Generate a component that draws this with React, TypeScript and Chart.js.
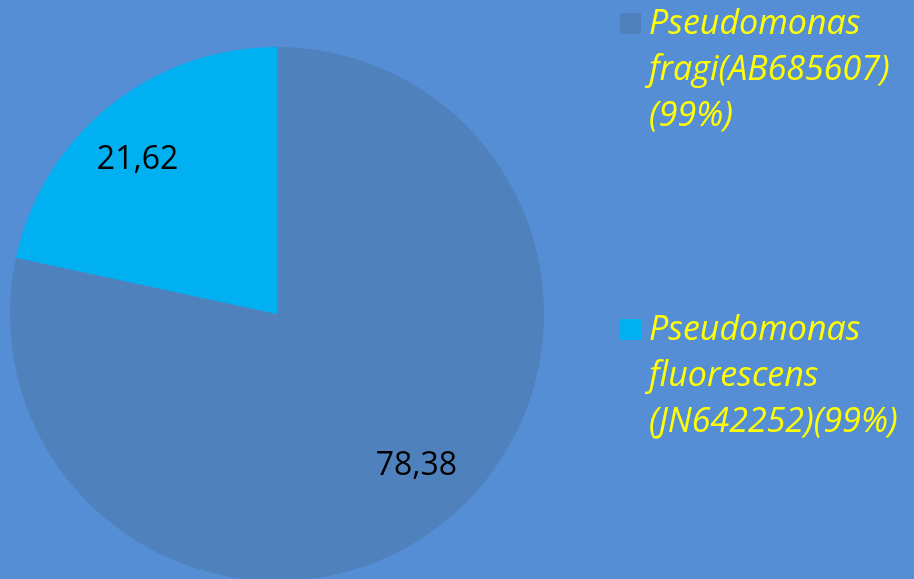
import React, { useEffect, useRef } from "react";
import { Chart, registerables } from "chart.js";

Chart.register(...registerables);

const categories: string[][] = [
  ["Pseudomonas", "fragi(AB685607)", "(99%)"],
  ["Pseudomonas", "fluorescens", "(JN642252)(99%)"],
];
const values: number[] = [78.38, 21.62];
const valueLabels: string[] = ["78,38", "21,62"];
const sliceColors: string[] = ["#4F81BD", "#00B0F0"];

const BG = "#558ED5";

const bgPlugin = {
  id: "bgFill",
  beforeDraw(chart: any) {
    const { ctx, width, height } = chart;
    ctx.save();
    ctx.fillStyle = BG;
    ctx.fillRect(0, 0, width, height);
    ctx.restore();
  },
};

const labelPlugin = {
  id: "sliceLabels",
  afterDatasetsDraw(chart: any) {
    const { ctx } = chart;
    const meta = chart.getDatasetMeta(0);
    ctx.save();
    ctx.font = "32px 'Open Sans'";
    ctx.fillStyle = "#000000";
    ctx.textAlign = "center";
    ctx.textBaseline = "middle";
    meta.data.forEach((arc: any, i: number) => {
      const p = arc.getProps(["x", "y", "startAngle", "endAngle", "outerRadius"], true);
      const mid = (p.startAngle + p.endAngle) / 2 - 0.06;
      const r = p.outerRadius * 0.775;
      ctx.fillText(valueLabels[i], p.x + Math.cos(mid) * r, p.y + Math.sin(mid) * r - 1);
    });
    ctx.restore();
  },
};

const legendPlugin = {
  id: "customLegend",
  afterDraw(chart: any) {
    const { ctx } = chart;
    const labels = chart.data.labels as string[][];
    const colors = chart.data.datasets[0].backgroundColor as string[];
    ctx.save();
    ctx.font = "italic 34px 'Open Sans'";
    ctx.textBaseline = "alphabetic";
    ctx.textAlign = "left";
    const firstBaseline = 34;
    const entryGap = 306;
    const lineGap = 46;
    labels.forEach((lines, i) => {
      const base = firstBaseline + i * entryGap;
      ctx.fillStyle = colors[i];
      ctx.fillRect(620, base - 21, 21, 21);
      ctx.fillStyle = "#FFFF00";
      lines.forEach((ln, j) => {
        ctx.fillText(ln, 649, base + j * lineGap);
      });
    });
    ctx.restore();
  },
};

export default function App() {
  const ref = useRef<HTMLCanvasElement>(null);
  useEffect(() => {
    document.body.style.margin = "0";
    const chart = new Chart(ref.current as HTMLCanvasElement, {
      type: "pie",
      data: {
        labels: categories,
        datasets: [
          {
            data: values,
            backgroundColor: sliceColors,
            borderWidth: 0,
          },
        ],
      },
      options: {
        animation: false,
        responsive: false,
        layout: { padding: { left: 10, right: 370, top: 47, bottom: 1 } },
        plugins: {
          legend: { display: false },
          tooltip: { enabled: false },
        },
      },
      plugins: [bgPlugin, labelPlugin, legendPlugin],
    });
    return () => chart.destroy();
  }, []);
  return (
    <div style={{ width: 914, height: 579, overflow: "hidden", background: BG }}>
      <canvas ref={ref} width={914} height={582} style={{ display: "block" }} />
    </div>
  );
}
